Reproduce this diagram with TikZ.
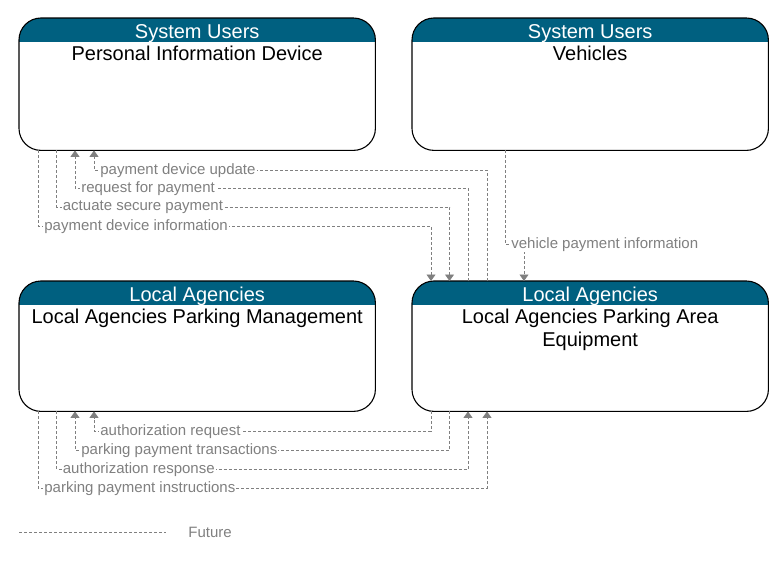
\documentclass[tikz,border=0pt]{standalone}
\usepackage{fontspec}
\setmainfont{Liberation Sans}
\usetikzlibrary{arrows.meta,positioning}
\definecolor{hdrteal}{RGB}{0,96,128}
\definecolor{flowgray}{RGB}{128,128,128}

\begin{document}
\begin{tikzpicture}
  [x=1pt,y=-1pt,
   box/.style={rectangle,minimum width=356pt,anchor=north west,inner sep=0pt},
   hdr/.style={text=white,font=\fontsize{20}{24}\selectfont,inner sep=0pt,minimum height=24pt},
   title/.style={font=\fontsize{20}{22.5}\selectfont,align=center,inner sep=0pt},
   flow/.style={draw=flowgray,line width=0.8pt,dash pattern=on 3pt off 2pt},
   tip/.style={-{Triangle[width=9pt,length=6.5pt]}},
   lbl/.style={text=flowgray,fill=white,inner sep=1pt,anchor=west,xshift=5pt,font=\fontsize{15}{17}\selectfont}]
  \useasboundingbox (0,0) rectangle (783,561);

  \node[box,minimum height=132pt] (pid)  at (19,18)  {};
  \node[box,minimum height=132pt] (veh)  at (412,18) {};
  \node[box,minimum height=130pt] (lapm) at (19,281) {};
  \node[box,minimum height=130pt] (lape) at (412,281) {};

  \foreach \b in {pid,veh,lapm,lape} {
    \begin{scope}
      \clip[rounded corners=22pt] (\b.north west) rectangle (\b.south east);
      \fill[hdrteal] (\b.north west) rectangle ([yshift=-24pt]\b.north east);
    \end{scope}
    \draw[line width=1.1pt,rounded corners=22pt] (\b.north west) rectangle (\b.south east);
  }

  \node[hdr] (pidh)  at ([yshift=-15.5pt]pid.north)  {System Users};
  \node[hdr] (vehh)  at ([yshift=-15.5pt]veh.north)  {System Users};
  \node[hdr] (lapmh) at ([yshift=-15.5pt]lapm.north) {Local Agencies};
  \node[hdr] (lapeh) at ([yshift=-15.5pt]lape.north) {Local Agencies};

  \node[title,below=0.5pt of pidh]  {Personal Information Device};
  \node[title,below=0.5pt of vehh]  {Vehicles};
  \node[title,below=0.5pt of lapmh] {Local Agencies Parking Management};
  \node[title,below=0.5pt of lapeh] {Local Agencies Parking Area\\Equipment};

  % flows between the devices and the parking area equipment
  \draw[flow,tip] ([xshift=75pt]lape.north west) |- ([xshift=75pt,yshift=-20pt]pid.south west)
    node[lbl] {payment device update} -- ([xshift=75pt]pid.south west);
  \draw[flow,tip] ([xshift=56pt]lape.north west) |- ([xshift=56pt,yshift=-38pt]pid.south west)
    node[lbl] {request for payment} -- ([xshift=56pt]pid.south west);
  \draw[flow,tip] ([xshift=37.5pt]pid.south west) -- ([xshift=37.5pt,yshift=-57pt]pid.south west)
    node[lbl] {actuate secure payment} -| ([xshift=37.5pt]lape.north west);
  \draw[flow,tip] ([xshift=19pt]pid.south west) -- ([xshift=19pt,yshift=-76pt]pid.south west)
    node[lbl] {payment device information} -| ([xshift=19pt]lape.north west);
  \draw[flow,tip] ([xshift=93pt]veh.south west) -- ([xshift=93pt,yshift=-94pt]veh.south west)
    node[lbl] {vehicle payment information} -| ([xshift=112pt]lape.north west);

  % flows between the parking management and the equipment
  \draw[flow,tip] ([xshift=19pt]lape.south west) |- ([xshift=75pt,yshift=-20pt]lapm.south west)
    node[lbl] {authorization request} -- ([xshift=75pt]lapm.south west);
  \draw[flow,tip] ([xshift=37.5pt]lape.south west) |- ([xshift=56pt,yshift=-39pt]lapm.south west)
    node[lbl] {parking payment transactions} -- ([xshift=56pt]lapm.south west);
  \draw[flow,tip] ([xshift=37.5pt]lapm.south west) -- ([xshift=37.5pt,yshift=-58pt]lapm.south west)
    node[lbl] {authorization response} -| ([xshift=56pt]lape.south west);
  \draw[flow,tip] ([xshift=19pt]lapm.south west) -- ([xshift=19pt,yshift=-77pt]lapm.south west)
    node[lbl] {parking payment instructions} -| ([xshift=75pt]lape.south west);

  % legend
  \coordinate (lg1) at (19,532);
  \coordinate (lg2) at (166,532);
  \draw[flow] (lg1) -- (lg2) node[lbl,fill=none,xshift=16pt] {Future};
\end{tikzpicture}
\end{document}
